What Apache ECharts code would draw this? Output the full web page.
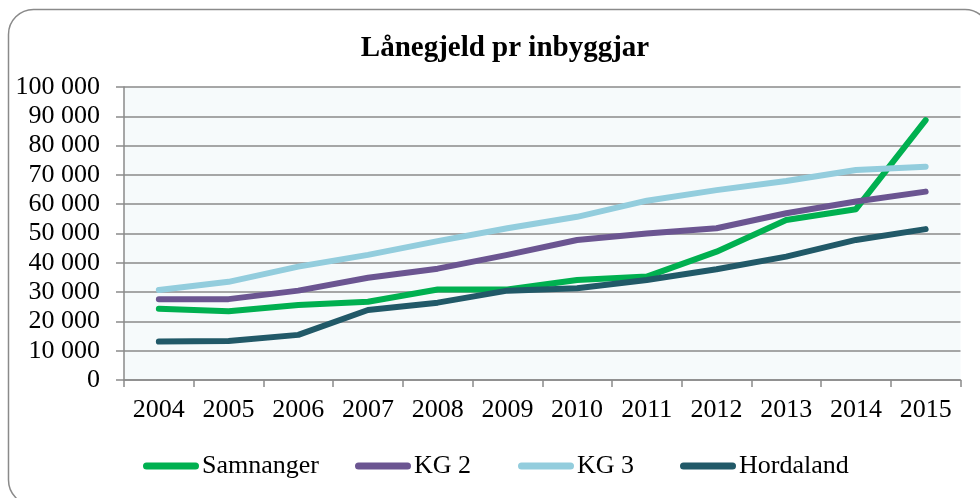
<!DOCTYPE html>
<html>
<head>
<meta charset="utf-8">
<script src="https://cdn.jsdelivr.net/npm/echarts@6/dist/echarts.min.js"></script>
<style>
html,body{margin:0;padding:0;background:#fff;}
#c{width:980px;height:498px;}
</style>
</head>
<body>
<div id="c"></div>
<script>
const title = 'Lånegjeld pr inbyggjar';
const years = ['2004','2005','2006','2007','2008','2009','2010','2011','2012','2013','2014','2015'];
const samnanger = [24300, 23500, 25600, 26700, 30900, 30900, 34100, 35300, 43800, 54600, 58300, 88700];
const kg2 = [27600, 27600, 30500, 34900, 38000, 42700, 47800, 50000, 51800, 56900, 60900, 64300];
const kg3 = [30700, 33500, 38700, 42700, 47400, 51800, 55700, 61200, 64800, 67900, 71700, 72800];
const hordaland = [13100, 13300, 15400, 23900, 26400, 30500, 31300, 34100, 37800, 42100, 47800, 51500];
const seriesNames = ['Samnanger', 'KG 2', 'KG 3', 'Hordaland'];
const colors = ['#00b050', '#6b5591', '#93cddd', '#215968'];
const seriesData = [samnanger, kg2, kg3, hordaland];
const legendLefts = [143, 355, 518, 680];

const fmt = v => String(v).replace(/\B(?=(\d{3})+(?!\d))/g, ' ');
const serif = '"Liberation Serif", "Times New Roman", serif';
const legendIcon = 'path://M3.5,0 H52.5 A3.5,3.5 0 0 1 52.5,7 H3.5 A3.5,3.5 0 0 1 3.5,0 Z';

const chart = echarts.init(document.getElementById('c'), null, {renderer: 'canvas'});
chart.setOption({
  animation: false,
  backgroundColor: '#ffffff',
  graphic: [{
    type: 'rect',
    shape: {x: 8.5, y: 9.5, width: 981.5, height: 495.5, r: 25},
    style: {fill: 'none', stroke: '#8a8a8a', lineWidth: 1.5},
    silent: true,
    z: -1
  }],
  title: {
    text: title,
    left: 500,
    textAlign: 'center',
    top: 29,
    textStyle: {fontFamily: serif, fontWeight: 'bold', fontSize: 29, color: '#000'}
  },
  legend: seriesNames.map((n, i) => ({
    data: [{name: n, icon: legendIcon}],
    left: legendLefts[i],
    top: 453,
    padding: 0,
    itemWidth: 56,
    itemHeight: 7,
    textStyle: {fontFamily: serif, fontSize: 26, color: '#000', padding: [0, 0, 0, -2]}
  })),
  grid: {
    left: 124, right: 19.5, top: 87, bottom: 118,
    show: true, backgroundColor: '#f6fafb', borderWidth: 0
  },
  xAxis: {
    type: 'category',
    data: years,
    boundaryGap: true,
    axisLine: {lineStyle: {color: '#8a8a8a', width: 1.5}},
    axisTick: {show: true, length: 7, interval: 0, lineStyle: {color: '#8a8a8a', width: 1.5}},
    axisLabel: {fontFamily: serif, fontSize: 26, color: '#000', margin: 17, interval: 0}
  },
  yAxis: {
    type: 'value',
    min: 0, max: 100000, interval: 10000,
    axisLine: {show: true, lineStyle: {color: '#8a8a8a', width: 1.5}},
    axisTick: {show: true, length: 8, lineStyle: {color: '#8a8a8a', width: 1.5}},
    splitLine: {show: true, lineStyle: {color: '#8a8a8a', width: 1.5}},
    axisLabel: {fontFamily: serif, fontSize: 26, color: '#000', margin: 24, formatter: fmt}
  },
  series: seriesNames.map((n, i) => ({
    name: n,
    type: 'line',
    data: seriesData[i],
    symbol: 'none',
    color: colors[i],
    lineStyle: {width: 6, color: colors[i], cap: 'round', join: 'round'},
    z: 2 + i
  }))
});
</script>
</body>
</html>
